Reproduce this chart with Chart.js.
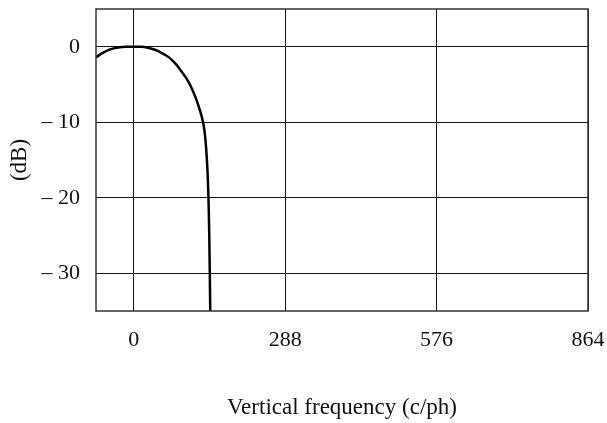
<!DOCTYPE html>
<html>
<head>
<meta charset="utf-8">
<script src="https://cdn.jsdelivr.net/npm/chart.js@4/dist/chart.umd.min.js"></script>
<style>
  html, body { margin: 0; padding: 0; background: #fff; }
  #wrap { width: 607px; height: 423px; }
</style>
</head>
<body>
<div id="wrap"><canvas id="respChart"></canvas></div>
<script>
// frequency (c/ph) and response (dB)
const freq = [-72, -60, -45, -30, -15, 0, 15, 30, 40, 50, 60, 70, 80, 90, 100, 108, 115, 121, 126, 130, 133, 135.5, 137.5, 139, 140.5, 141.5, 142.5, 143.5, 144.5, 145.5];
const resp = [-1.4, -0.85, -0.35, -0.1, 0, 0, 0, -0.2, -0.4, -0.7, -1.1, -1.6, -2.3, -3.2, -4.2, -5.2, -6.3, -7.4, -8.5, -9.5, -10.5, -11.8, -13.4, -15, -17, -19, -21.5, -25, -30, -36];

const xTicks = [0, 288, 576, 864];
const yTicks = [0, -10, -20, -30];
const yTickLabels = ["0", "\u2013 10", "\u2013 20", "\u2013 30"];

const serif = "'Liberation Serif', 'Times New Roman', serif";

const frame = {
  id: "frame",
  afterDatasetsDraw(chart) {
    const { ctx, chartArea: a } = chart;
    ctx.save();
    ctx.strokeStyle = "#333";
    ctx.lineWidth = 1.5;
    ctx.strokeRect(a.left, a.top, a.right - a.left, a.bottom - a.top);
    ctx.restore();
  }
};

const ctx = document.getElementById("respChart").getContext("2d");
new Chart(ctx, {
  type: "line",
  data: {
    datasets: [{
      data: freq.map((f, i) => ({ x: f, y: resp[i] })),
      borderColor: "#000",
      borderWidth: 2.5,
      pointRadius: 0,
      cubicInterpolationMode: "monotone",
      fill: false
    }]
  },
  options: {
    animation: false,
    responsive: true,
    maintainAspectRatio: false,
    layout: { padding: { top: 9, right: 19, left: 0, bottom: 0 } },
    plugins: { legend: { display: false }, tooltip: { enabled: false } },
    scales: {
      x: {
        type: "linear",
        min: -72,
        max: 864,
        afterBuildTicks: s => { s.ticks = xTicks.map(v => ({ value: v })); },
        afterFit: s => { s.height = 112; s.paddingLeft = 0; s.paddingRight = 0; },
        grid: { color: "#111", lineWidth: 1, drawTicks: false },
        border: { display: false },
        ticks: {
          padding: 16,
          color: "#111",
          maxRotation: 0,
          font: { family: serif, size: 22 }
        },
        title: {
          display: true,
          text: "Vertical frequency (c/ph)",
          color: "#111",
          font: { family: serif, size: 23 },
          padding: { top: 0, bottom: 1 }
        }
      },
      y: {
        min: -35,
        max: 5,
        afterBuildTicks: s => { s.ticks = yTicks.map(v => ({ value: v })); },
        afterFit: s => { s.width = 96; s.paddingTop = 0; s.paddingBottom = 0; },
        grid: { color: "#111", lineWidth: 1, drawTicks: false },
        border: { display: false },
        ticks: {
          padding: 16,
          color: "#111",
          font: { family: serif, size: 22 },
          callback: v => yTickLabels[yTicks.indexOf(v)]
        },
        title: {
          display: true,
          text: "(dB)",
          color: "#111",
          font: { family: serif, size: 23 },
          padding: { top: 6, bottom: 0 }
        }
      }
    }
  },
  plugins: [frame]
});
</script>
</body>
</html>
